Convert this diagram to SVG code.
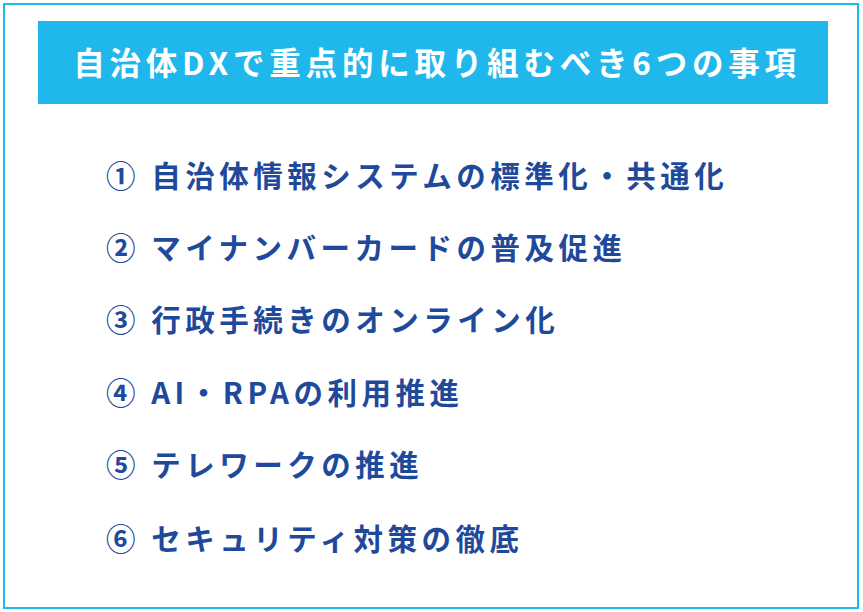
<svg xmlns="http://www.w3.org/2000/svg" width="863" height="612" viewBox="0 0 863 612">
<style>
.t{font-family:"Noto Sans CJK JP","Noto Sans",sans-serif;font-weight:bold}
.i{fill:#1f4a9c;font-size:29.5px;letter-spacing:4.5px}
</style>
<rect width="863" height="612" fill="#fff"/>
<rect x="4" y="4" width="854" height="604" fill="none" stroke="#1fb8ec" stroke-width="2"/>
<g id="title">
<rect x="38" y="21" width="790" height="83" fill="#20b8ec"/>
<text class="t" x="437" y="75" text-anchor="middle" font-size="31.5" letter-spacing="4.8" fill="#fff">自治体DXで重点的に取り組むべき6つの事項</text>
</g>
<g id="items">
<text id="n1" class="t i" x="106" y="187">① 自治体情報システムの標準化・共通化</text>
<text id="n2" class="t i" x="106" y="259">② マイナンバーカードの普及促進</text>
<text id="n3" class="t i" x="106" y="331">③ 行政手続きのオンライン化</text>
<text id="n4" class="t i" x="106" y="404">④ AI・RPAの利用推進</text>
<text id="n5" class="t i" x="106" y="476">⑤ テレワークの推進</text>
<text id="n6" class="t i" x="106" y="550">⑥ セキュリティ対策の徹底</text>
</g>
<g id="connectors"/>
</svg>
